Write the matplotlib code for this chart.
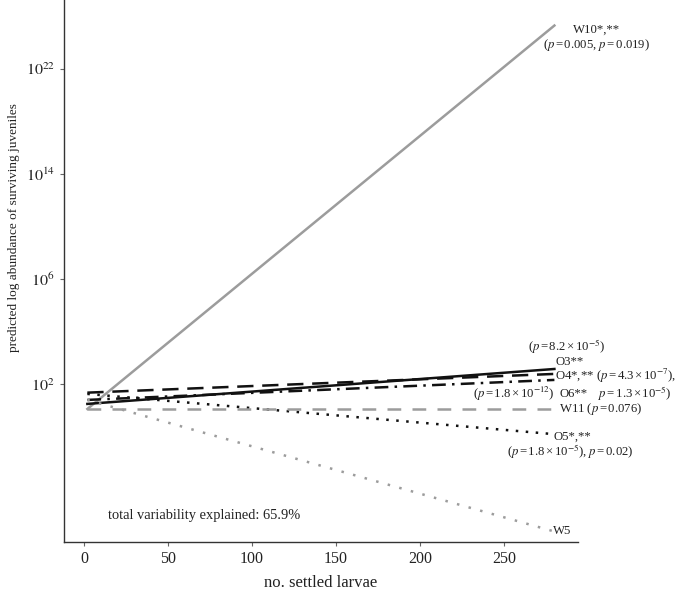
import matplotlib
matplotlib.use("Agg")
import matplotlib.pyplot as plt
import numpy as np

plt.rcParams['font.family'] = ['Liberation Serif', 'DejaVu Serif']
plt.rcParams['mathtext.fontset'] = 'stix'

# x range of the fitted lines (no. settled larvae)
x_range = [2, 280]

# y values in axis units (tick positions 0..3 are labelled 10^2, 10^6, 10^14, 10^22)
series = ['W10', 'O3', 'O4', 'O6', 'O5', 'W11', 'W5']
y_start = [-0.235, -0.187, -0.080, -0.149, -0.092, -0.235, -0.149]
y_end = [3.41, 0.145, 0.098, 0.041, -0.475, -0.235, -1.40]

ytick_pos = [0, 1, 2, 3]
ytick_labels = [r'$10^{2}$', r'$10^{6}$', r'$10^{14}$', r'$10^{22}$']
xticks = [0, 50, 100, 150, 200, 250]

GRAY = '#9c9c9c'
styles = {
    'W10': dict(color=GRAY, ls='-', lw=1.8),
    'O3': dict(color='#111111', ls='-', lw=1.8),
    'O4': dict(color='#111111', ls=(0, (6.5, 3.5)), lw=1.8),
    'O6': dict(color='#111111', ls=(0, (5.5, 2.5, 1, 2.5)), lw=1.8),
    'O5': dict(color='#111111', ls=(0, (1, 3)), lw=1.8),
    'W11': dict(color=GRAY, ls=(0, (5.5, 4.5)), lw=1.8),
    'W5': dict(color=GRAY, ls=(0, (1, 3.8)), lw=1.8),
}

fig = plt.figure(figsize=(6.78, 6.05), dpi=100)
ax = fig.add_axes([0.0944, 0.1041, 0.758, 1.038])

for name, y0, y1 in zip(series, y_start, y_end):
    ax.plot(x_range, [y0, y1], **styles[name])

ax.set_xlim(-11.9, 294)
ax.set_ylim(-1.50, 4.47)
ax.set_xticks(xticks)
ax.set_yticks(ytick_pos)
ax.set_yticklabels(ytick_labels)
ax.tick_params(axis='both', labelsize=11.5, length=3, color='#666666', labelcolor='#222222')
for s in ['top', 'right']:
    ax.spines[s].set_visible(False)
for s in ['left', 'bottom']:
    ax.spines[s].set_color('#333333')
    ax.spines[s].set_linewidth(1.0)

ax.set_xlabel('no. settled larvae', fontsize=12, color='#222222', labelpad=6)
ax.set_ylabel('predicted log abundance of surviving juveniles', fontsize=9.5,
              color='#222222', labelpad=4)

fs = 9.2


def put(px, py, s, ha='left', size=fs):
    fig.text(px / 678, 1 - py / 605, s, ha=ha, va='center', fontsize=size, color='#222222')


def pv(val):
    return r'$p\,$=$\,$' + val


def sci(m, e):
    return m + r'$\,$×$\,$10$^{' + e + '}$'


put(597, 30, 'W10*,**', ha='center')
put(597, 45, '(' + pv('0.005') + ', ' + pv('0.019') + ')', ha='center')
put(567, 347, '(' + pv(sci('8.2', '-5')) + ')', ha='center')
put(555, 362, 'O3**')
put(555, 376, 'O4*,** (' + pv(sci('4.3', '-7')) + '),')
put(554, 394, '(' + pv(sci('1.8', '-12')) + ')', ha='right')
put(559, 394, 'O6**')
put(598, 394, pv(sci('1.3', '-5')) + ')')
put(559, 409, 'W11 (' + pv('0.076') + ')')
put(553, 437, 'O5*,**')
put(570, 452, '(' + pv(sci('1.8', '-5')) + '), ' + pv('0.02') + ')', ha='center')
put(553, 531, 'W5')
put(108, 515, 'total variability explained: 65.9%', size=10.4)

fig.savefig('out.png', dpi=100)
